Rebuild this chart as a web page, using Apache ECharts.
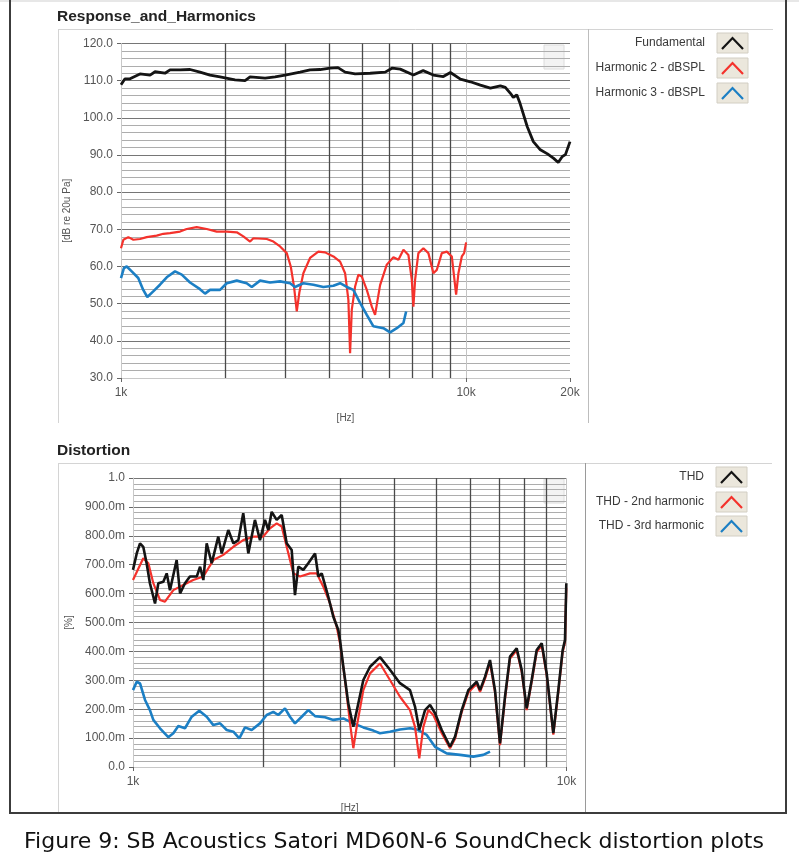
<!DOCTYPE html>
<html>
<head>
<meta charset="utf-8">
<script src="https://cdn.jsdelivr.net/npm/echarts@6/dist/echarts.min.js"></script>
<style>
html,body{margin:0;padding:0;background:#fff;}
#chart{width:799px;height:864px;}
</style>
</head>
<body>
<div id="chart"></div>
<script>
// ---------- Response_and_Harmonics (top) ----------
const fundFreq = [1000,1027,1062,1135,1214,1255,1341,1387,1483,1585,1694,1811,1936,2140,2288,2366,2616,2796,2989,3303,3531,3775,4035,4253,4461,4770,5273,5830,6112,6444,7033,7508,8034,8590,9006,9628,10290,11000,11760,12570,12990,13440,13700,14020,14330,15040,15660,16410,17210,17940,18490,19000,19400,20000];
const fundDb   = [108.9,110.5,110.5,111.8,111.5,112.4,112.0,112.9,112.9,113.0,112.3,111.5,111.0,110.2,110.0,111.0,110.7,111.0,111.5,112.3,112.9,113.0,113.4,113.5,112.3,111.8,112.0,112.3,113.4,113.1,111.5,112.7,111.5,111.1,112.2,110.4,109.7,108.8,108.0,108.6,108.2,106.6,105.5,106.2,103.9,97.6,93.6,91.4,90.3,89.1,88.0,89.6,90.1,93.6];

const h2Freq = [1000,1016,1050,1086,1135,1187,1269,1326,1387,1483,1550,1657,1772,1894,2025,2165,2262,2366,2419,2645,2764,2890,3022,3104,3172,3231,3287,3376,3530,3731,3902,4125,4314,4460,4559,4611,4664,4768,4873,4986,5155,5330,5448,5633,5890,6157,6366,6582,6805,6960,7035,7115,7273,7520,7775,8039,8224,8503,8792,9090,9355,9500,9717,9868,10000];
const h2Db   = [64.9,67.2,67.9,67.2,67.4,67.9,68.3,68.8,69.0,69.4,70.1,70.6,70.1,69.4,69.4,69.2,68.1,66.7,67.6,67.4,66.7,65.4,63.6,60.0,54.6,47.9,53.0,58.2,62.3,64.0,63.8,62.7,61.3,58.2,51.0,36.7,48.4,54.6,57.8,57.3,53.7,49.2,47.0,55.0,60.5,62.5,61.8,64.5,63.1,56.4,49.2,56.4,63.6,64.9,63.6,58.2,59.1,63.6,64.0,62.7,52.4,58.2,62.7,63.6,66.5];

const h3Freq = [1000,1020,1039,1074,1122,1160,1192,1240,1297,1357,1434,1500,1585,1694,1752,1811,1936,2025,2165,2313,2393,2529,2703,2890,3090,3193,3376,3609,3858,4125,4314,4511,4713,4929,5155,5387,5759,6022,6298,6582,6702];
const h3Db   = [56.9,59.6,60.0,58.7,56.9,53.7,51.8,53.3,55.1,57.1,58.7,57.8,55.7,53.9,52.7,53.7,53.7,55.5,56.2,55.5,54.5,56.2,55.7,56.0,55.5,54.5,55.5,55.1,54.5,54.8,55.5,54.5,53.7,50.2,47.0,43.9,43.4,42.3,43.4,44.8,47.9];

// ---------- Distortion (bottom) ----------
const thdFreq = [1000,1020,1038,1056,1075,1094,1124,1144,1175,1196,1217,1261,1284,1318,1353,1403,1428,1453,1479,1519,1573,1602,1659,1704,1750,1796,1845,1911,1963,2016,2052,2089,2145,2203,2262,2323,2364,2406,2471,2537,2630,2677,2725,2822,2898,2976,3003,3056,3138,3223,3309,3399,3522,3713,3900,4129,4355,4472,4575,4717,4844,4974,5155,5387,5532,5732,5937,6207,6318,6486,6661,6840,7024,7213,7407,7675,7882,8094,8312,8536,8767,9002,9324,9575,9799,9920,9990];
const thdVal  = [0.682,0.739,0.774,0.762,0.705,0.636,0.566,0.636,0.641,0.670,0.612,0.716,0.601,0.636,0.659,0.659,0.693,0.647,0.774,0.705,0.797,0.739,0.820,0.774,0.785,0.878,0.739,0.855,0.785,0.855,0.820,0.883,0.855,0.872,0.774,0.751,0.595,0.693,0.682,0.705,0.739,0.659,0.670,0.589,0.520,0.474,0.439,0.347,0.220,0.139,0.220,0.301,0.347,0.380,0.340,0.290,0.266,0.209,0.128,0.197,0.215,0.186,0.128,0.070,0.105,0.197,0.266,0.295,0.266,0.312,0.370,0.266,0.082,0.243,0.382,0.411,0.336,0.203,0.301,0.405,0.428,0.324,0.117,0.266,0.405,0.439,0.636];

const thd2Freq = [1000,1056,1085,1114,1154,1185,1239,1306,1377,1453,1532,1615,1704,1796,1894,1997,2070,2145,2203,2262,2344,2428,2561,2653,2748,2847,2951,3003,3084,3167,3223,3281,3399,3522,3713,3915,4129,4355,4472,4575,4675,4800,4929,5155,5387,5532,5732,5937,6207,6318,6486,6661,6840,7024,7213,7407,7675,7882,8094,8312,8536,8767,9002,9324,9575,9799,9920,9990];
const thd2Val  = [0.647,0.722,0.705,0.636,0.578,0.572,0.612,0.630,0.647,0.659,0.716,0.734,0.762,0.785,0.797,0.797,0.826,0.843,0.832,0.762,0.670,0.659,0.670,0.670,0.624,0.566,0.485,0.428,0.301,0.151,0.065,0.139,0.266,0.324,0.358,0.301,0.243,0.197,0.139,0.030,0.139,0.197,0.180,0.117,0.065,0.098,0.190,0.258,0.288,0.260,0.305,0.362,0.258,0.076,0.236,0.375,0.404,0.330,0.197,0.295,0.398,0.420,0.318,0.112,0.260,0.398,0.432,0.620];

const thd3Freq = [1000,1020,1038,1066,1094,1114,1154,1206,1239,1272,1318,1366,1422,1479,1532,1588,1645,1704,1759,1813,1878,1963,2034,2107,2163,2242,2302,2364,2450,2537,2630,2773,2898,3056,3223,3399,3584,3713,3915,4129,4355,4512,4760,4974,5292,5681,6095,6427,6661];
const thd3Val  = [0.266,0.295,0.289,0.232,0.197,0.163,0.134,0.103,0.117,0.142,0.134,0.174,0.195,0.174,0.145,0.151,0.128,0.122,0.099,0.137,0.128,0.151,0.180,0.191,0.180,0.203,0.174,0.151,0.174,0.197,0.176,0.172,0.163,0.168,0.151,0.137,0.126,0.117,0.122,0.130,0.134,0.130,0.111,0.070,0.047,0.042,0.036,0.042,0.053];

// axes / ticks
const topXTicks = [1000, 10000, 20000];
const botXTicks = [1000, 10000];
const gridFreqs = [2000,3000,4000,5000,6000,7000,8000,9000];
const topLegend = ['Fundamental', 'Harmonic 2 - dBSPL', 'Harmonic 3 - dBSPL'];
const botLegend = ['THD', 'THD - 2nd harmonic', 'THD - 3rd harmonic'];
const colors = ['#141414', '#f4322c', '#1c7fc4'];

const pairs = (xs, ys) => xs.map((x, i) => [x, ys[i]]);
const kLabel = v => (v >= 1000 ? (v / 1000) + 'k' : String(v));
const FONT = '"Liberation Sans", Arial, sans-serif';

function vGrid() {
  const d = gridFreqs.map(f => ({ xAxis: f, lineStyle: { color: '#4a4a4a', width: 1.3, type: 'solid' } }));
  d.push({ xAxis: 10000, lineStyle: { color: '#c4c4c4', width: 1, type: 'solid' } });
  return { silent: true, symbol: ['none', 'none'], label: { show: false }, z: 1, animation: false, data: d };
}

const baseX = {
  type: 'log', logBase: 10, min: 1000,
  splitLine: { show: false },
  axisLine: { show: true, lineStyle: { color: '#c8c8c8', width: 1 } },
  axisLabel: { color: '#555', fontSize: 12, margin: 9, fontFamily: FONT, formatter: kLabel },
  nameLocation: 'middle',
  nameTextStyle: { color: '#555', fontSize: 10, fontFamily: FONT },
  name: '[Hz]'
};
const baseY = {
  type: 'value',
  axisLine: { show: true, lineStyle: { color: '#c8c8c8', width: 1 } },
  axisTick: { show: true, length: 4, lineStyle: { color: '#666' } },
  splitLine: { show: true, lineStyle: { color: '#767676', width: 1.2 } },
  minorTick: { show: false, splitNumber: 5 },
  minorSplitLine: { show: true, lineStyle: { color: '#adadad', width: 1 } },
  nameLocation: 'middle',
  nameRotate: 90,
  nameTextStyle: { color: '#555', fontSize: 10, fontFamily: FONT }
};

function legendGraphics(names, yCenters, textRight, boxX) {
  const els = [];
  names.forEach((n, i) => {
    const yc = yCenters[i];
    els.push({ type: 'text', x: textRight, y: yc, silent: true,
      style: { text: n, fill: '#3a3a3a', font: '12px ' + FONT, textAlign: 'right', textVerticalAlign: 'middle' } });
    els.push({ type: 'rect', shape: { x: boxX, y: yc - 10, width: 31, height: 20 }, silent: true,
      style: { fill: '#ebe7dc', stroke: '#d2cec3', lineWidth: 1 } });
    els.push({ type: 'polyline', shape: { points: [[boxX + 5, yc + 6], [boxX + 15.5, yc - 5], [boxX + 26, yc + 6]] }, silent: true,
      style: { stroke: colors[i], lineWidth: 2.2, fill: null } });
  });
  return els;
}
function textEl(x, y, s, font, fill, align) {
  return { type: 'text', x: x, y: y, silent: true, style: { text: s, font: font, fill: fill, textAlign: align || 'left', textVerticalAlign: 'middle' } };
}
function line(x1, y1, x2, y2, color, w) {
  return { type: 'line', silent: true, shape: { x1, y1, x2, y2 }, style: { stroke: color, lineWidth: w } };
}
function palette(x, y) {
  return { type: 'rect', silent: true, shape: { x: x, y: y, width: 20, height: 24 }, style: { fill: '#f3f3f3', stroke: '#dcdcdc', lineWidth: 1 } };
}

const graphics = [
  line(0, 1, 799, 1, '#cfcfcf', 1),
  line(10, 0, 10, 813, '#3c3c3c', 2),
  line(786, 0, 786, 813, '#3c3c3c', 2),
  line(9, 813, 787, 813, '#3c3c3c', 2),
  // top panel frame
  line(58, 29.5, 773, 29.5, '#d4d4d4', 1),
  line(58.5, 29, 58.5, 423, '#d4d4d4', 1),
  line(588.5, 29, 588.5, 423, '#bdbdbd', 1),
  // bottom panel frame
  line(58, 463.5, 772, 463.5, '#d4d4d4', 1),
  line(58.5, 463, 58.5, 812, '#d4d4d4', 1),
  line(585.5, 463, 585.5, 812, '#9a9a9a', 1),
  textEl(57, 17, 'Response_and_Harmonics', 'bold 15.5px ' + FONT, '#222'),
  textEl(57, 451, 'Distortion', 'bold 15.5px ' + FONT, '#222'),
  textEl(394, 842, 'Figure 9: SB Acoustics Satori MD60N-6 SoundCheck distortion plots', '22px "DejaVu Sans", Verdana, sans-serif', '#111', 'center'),
  palette(544, 45),
  palette(544, 479)
];
legendGraphics(topLegend, [43, 68, 93], 705, 717).forEach(e => graphics.push(e));
legendGraphics(botLegend, [477, 502, 526], 704, 716).forEach(e => graphics.push(e));

const option = {
  animation: false,
  backgroundColor: '#ffffff',
  grid: [
    { left: 121, top: 43.5, width: 449, height: 334.5, containLabel: false },
    { left: 133, top: 478, width: 433.5, height: 289, containLabel: false }
  ],
  xAxis: [
    Object.assign({}, baseX, { gridIndex: 0, max: 20000, nameGap: 35,
      axisTick: { show: true, length: 4, customValues: topXTicks, lineStyle: { color: '#666' } },
      axisLabel: Object.assign({}, baseX.axisLabel, { customValues: topXTicks }) }),
    Object.assign({}, baseX, { gridIndex: 1, max: 10000, nameGap: 36,
      axisTick: { show: true, length: 4, customValues: botXTicks, lineStyle: { color: '#666' } },
      axisLabel: Object.assign({}, baseX.axisLabel, { customValues: botXTicks }) })
  ],
  yAxis: [
    Object.assign({}, baseY, { gridIndex: 0, min: 30, max: 120, interval: 10, name: '[dB re 20u Pa]', nameGap: 46,
      axisLabel: { color: '#555', fontSize: 12, margin: 8, fontFamily: FONT, formatter: v => v.toFixed(1) } }),
    Object.assign({}, baseY, { gridIndex: 1, min: 0, max: 1, interval: 0.1, name: '[%]', nameGap: 58,
      axisLabel: { color: '#555', fontSize: 12, margin: 8, fontFamily: FONT,
        formatter: v => { const m = Math.round(v * 1000); if (m === 0) return '0.0'; if (m === 1000) return '1.0'; return m + '.0m'; } } })
  ],
  series: [
    { name: topLegend[1], type: 'line', xAxisIndex: 0, yAxisIndex: 0, data: pairs(h2Freq, h2Db), showSymbol: false, z: 3,
      lineStyle: { color: colors[1], width: 2.2 }, markLine: vGrid() },
    { name: topLegend[2], type: 'line', xAxisIndex: 0, yAxisIndex: 0, data: pairs(h3Freq, h3Db), showSymbol: false, z: 3,
      lineStyle: { color: colors[2], width: 2.6 } },
    { name: topLegend[0], type: 'line', xAxisIndex: 0, yAxisIndex: 0, data: pairs(fundFreq, fundDb), showSymbol: false, z: 4,
      lineStyle: { color: colors[0], width: 2.8 } },
    { name: botLegend[2], type: 'line', xAxisIndex: 1, yAxisIndex: 1, data: pairs(thd3Freq, thd3Val), showSymbol: false, z: 3,
      lineStyle: { color: colors[2], width: 2.6 }, markLine: vGrid() },
    { name: botLegend[1], type: 'line', xAxisIndex: 1, yAxisIndex: 1, data: pairs(thd2Freq, thd2Val), showSymbol: false, z: 3,
      lineStyle: { color: colors[1], width: 2.2 } },
    { name: botLegend[0], type: 'line', xAxisIndex: 1, yAxisIndex: 1, data: pairs(thdFreq, thdVal), showSymbol: false, z: 4,
      lineStyle: { color: colors[0], width: 2.6 } }
  ],
  graphic: { elements: graphics }
};

const chart = echarts.init(document.getElementById('chart'), null, { renderer: 'canvas' });
chart.setOption(option);
</script>
</body>
</html>
